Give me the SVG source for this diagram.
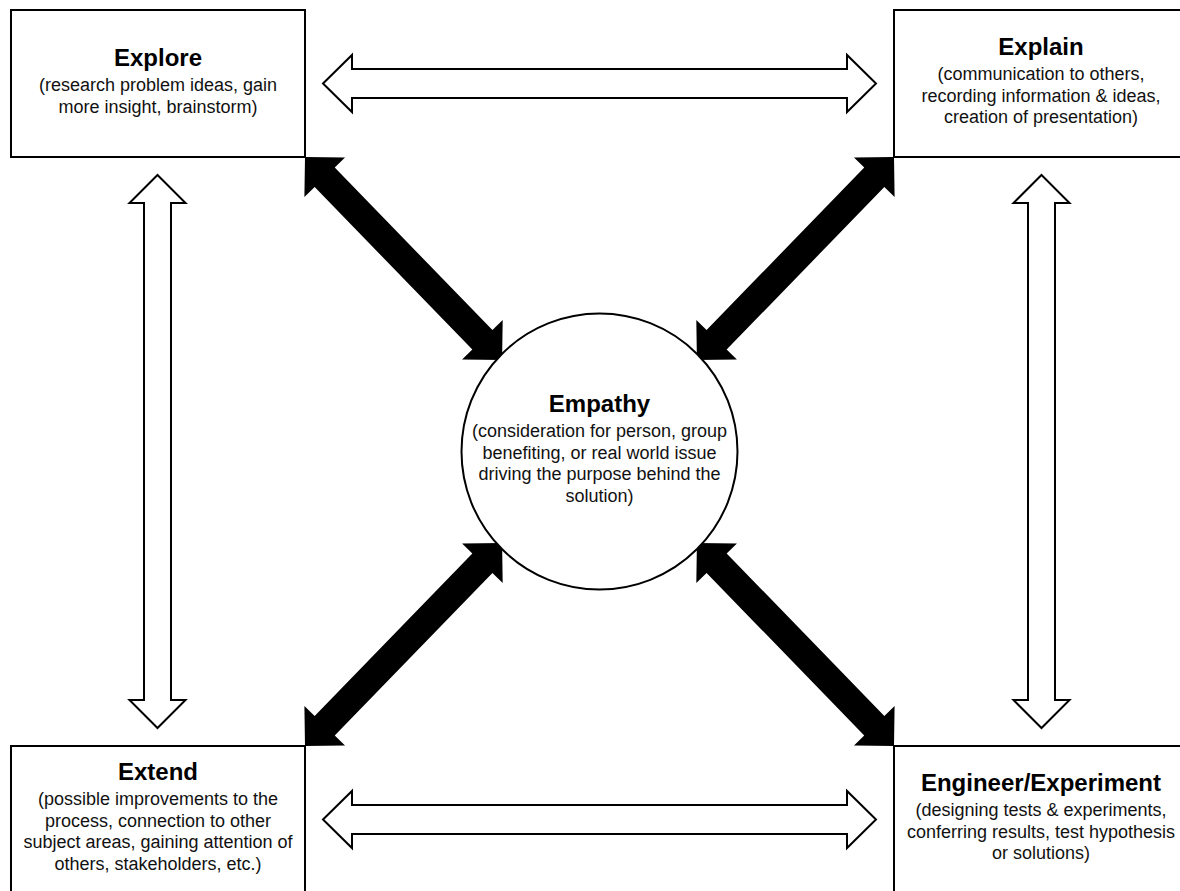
<svg xmlns="http://www.w3.org/2000/svg" width="1180" height="891" viewBox="0 0 1180 891">
<style>
.box{fill:#fff;stroke:#000;stroke-width:2}
.circ{fill:#fff;stroke:#000;stroke-width:2}
.open{fill:#fff;stroke:#000;stroke-width:2;stroke-linejoin:miter}
.solid{fill:#000;stroke:none}
.t{font-family:"Liberation Sans",Arial,sans-serif;font-weight:bold;font-size:24px;fill:#000;text-anchor:middle}
.s{font-family:"Liberation Sans",Arial,sans-serif;font-size:18px;fill:#111;text-anchor:middle}
</style>
<defs>
<path id="bigArrow" d="M0,0 L28.3,-28.3 L28.3,-14 L254.7,-14 L254.7,-28.3 L283,0 L254.7,28.3 L254.7,14 L28.3,14 L28.3,28.3 Z"/>
</defs>
<rect width="1180" height="891" fill="#fff"/>
<g id="connectors">
<polygon class="open" points="323,83.5 352,55 352,69 847,69 847,55 876,83.5 847,112 847,98 352,98 352,112"/>
<polygon class="open" points="323,819.5 352,791 352,805 847,805 847,791 876,819.5 847,848 847,834 352,834 352,848"/>
<polygon class="open" points="157.5,175 185.5,203 171,203 171,700 185.5,700 157.5,728 129.5,700 144,700 144,203 129.5,203"/>
<polygon class="open" points="1041.5,175 1069.5,203 1055,203 1055,700 1069.5,700 1041.5,728 1013.5,700 1028,700 1028,203 1013.5,203"/>
<use href="#bigArrow" class="solid" transform="translate(305,157) rotate(45.86)"/>
<use href="#bigArrow" class="solid" transform="translate(894,157) rotate(134.14)"/>
<use href="#bigArrow" class="solid" transform="translate(305,746) rotate(-45.86)"/>
<use href="#bigArrow" class="solid" transform="translate(894,746) rotate(-134.14)"/>
</g>
<g id="explore">
<rect class="box" x="11" y="10" width="294" height="147"/>
<text class="t" x="158" y="65.5">Explore</text>
<text class="s" x="158" y="91">(research problem ideas, gain</text>
<text class="s" x="158" y="112.5">more insight, brainstorm)</text>
</g>
<g id="explain">
<rect class="box" x="894" y="10" width="294" height="147"/>
<text class="t" x="1041" y="55">Explain</text>
<text class="s" x="1041" y="80">(communication to others,</text>
<text class="s" x="1041" y="101.5">recording information &amp; ideas,</text>
<text class="s" x="1041" y="123">creation of presentation)</text>
</g>
<g id="extend">
<rect class="box" x="11" y="746" width="294" height="147"/>
<text class="t" x="158" y="780">Extend</text>
<text class="s" x="158" y="805">(possible improvements to the</text>
<text class="s" x="158" y="826.5">process, connection to other</text>
<text class="s" x="158" y="848">subject areas, gaining attention of</text>
<text class="s" x="158" y="869.5">others, stakeholders, etc.)</text>
</g>
<g id="engineer">
<rect class="box" x="894" y="746" width="294" height="147"/>
<text class="t" x="1041" y="791">Engineer/Experiment</text>
<text class="s" x="1041" y="816">(designing tests &amp; experiments,</text>
<text class="s" x="1041" y="837.5">conferring results, test hypothesis</text>
<text class="s" x="1041" y="859">or solutions)</text>
</g>
<g id="empathy">
<circle class="circ" cx="599.5" cy="451.5" r="138"/>
<text class="t" x="599.5" y="412">Empathy</text>
<text class="s" x="599.5" y="437">(consideration for person, group</text>
<text class="s" x="599.5" y="458.5">benefiting, or real world issue</text>
<text class="s" x="599.5" y="480">driving the purpose behind the</text>
<text class="s" x="599.5" y="501.5">solution)</text>
</g>
</svg>
